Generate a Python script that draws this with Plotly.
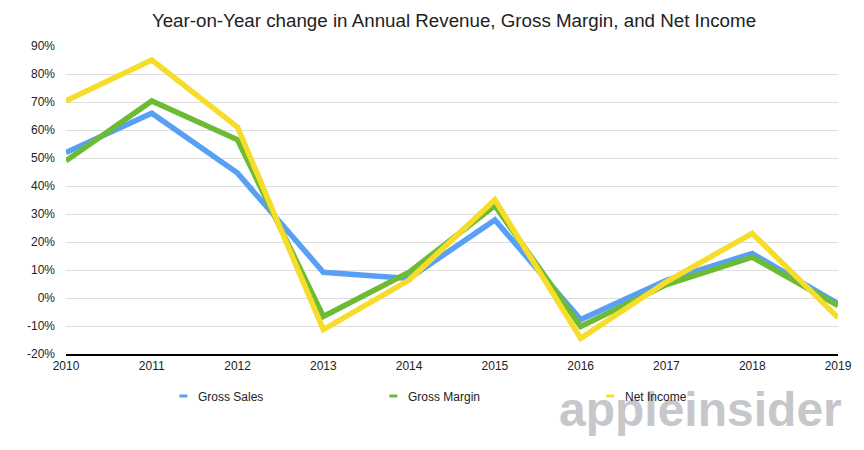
import plotly.graph_objects as go

years = [2010, 2011, 2012, 2013, 2014, 2015, 2016, 2017, 2018, 2019]
gross_sales = [52, 66, 44.6, 9.2, 7, 27.9, -7.7, 6.3, 15.9, -2.0]
gross_margin = [49, 70.4, 56.5, -6.6, 9.2, 33, -10.2, 4.8, 14.6, -2.7]
net_income = [70.4, 85, 61, -11.3, 6.4, 35.1, -14.4, 5.8, 23.1, -7.0]
series_names = ["Gross Sales", "Gross Margin", "Net Income"]
colors = ["#57a0f5", "#6dbb35", "#f6dd2c"]
y_ticks = list(range(-20, 100, 10))
y_tick_labels = [f"{v}%" for v in y_ticks]

FONT = "Liberation Sans, Arial, Helvetica, sans-serif"

fig = go.Figure()
for name, vals, col in zip(series_names, [gross_sales, gross_margin, net_income], colors):
    fig.add_trace(go.Scatter(x=years, y=vals, mode="lines", name=name,
                             line=dict(color=col, width=5.5), showlegend=False))

L, R, T, B = 66, 22, 46, 96
pw = 864 - L - R
ph = 450 - T - B

def px2x(px):
    return (px - L) / pw

def py2y(py):
    return (450 - B - py) / ph

annotations = []
shapes = []
legend_pos = [(180, 197), (391, 408), (609, 626)]
# watermark
annotations.append(dict(text="<b>appleinsider</b>", x=px2x(704), y=py2y(409),
                        xref="paper", yref="paper", showarrow=False,
                        font=dict(family=FONT, size=48, color="#c6c7ca"),
                        xanchor="center", yanchor="middle"))
for (mx, tx), name, col in zip(legend_pos, series_names, colors):
    shapes.append(dict(type="line", xref="paper", yref="paper",
                       x0=px2x(mx), x1=px2x(mx + 8), y0=py2y(396), y1=py2y(396),
                       line=dict(color=col, width=3)))
    annotations.append(dict(text=name, x=px2x(tx), y=py2y(397), xref="paper", yref="paper",
                            showarrow=False, xanchor="left", yanchor="middle",
                            font=dict(family=FONT, size=12, color="#222")))

fig.update_layout(
    width=864, height=450,
    margin=dict(l=L, r=R, t=T, b=B),
    paper_bgcolor="white", plot_bgcolor="white",
    title=dict(text="Year-on-Year change in Annual Revenue, Gross Margin, and Net Income",
               x=454 / 864, xref="container", xanchor="center", y=1 - 20 / 450, yanchor="middle",
               font=dict(family=FONT, size=18.75, color="#222")),
    font=dict(family=FONT, size=12, color="#222"),
    xaxis=dict(range=[2010, 2019], tickvals=years, ticktext=[str(y) for y in years],
               showgrid=False, showline=True, linecolor="black", linewidth=1.5,
               ticks="", zeroline=False, tickfont=dict(size=12, color="#222")),
    yaxis=dict(range=[-20, 90], tickvals=y_ticks, ticktext=y_tick_labels,
               showgrid=True, gridcolor="#dddddd", gridwidth=1, zeroline=False,
               ticks="", ticklabelstandoff=10, tickfont=dict(size=12, color="#222")),
    shapes=shapes,
    annotations=annotations,
)
fig.write_html("out.html")
